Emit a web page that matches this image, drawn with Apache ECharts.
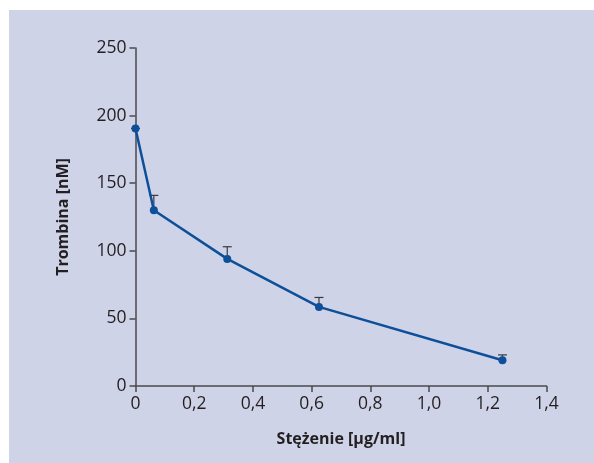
<!DOCTYPE html>
<html><head><meta charset="utf-8">
<script src="https://cdn.jsdelivr.net/npm/echarts@6/dist/echarts.min.js"></script>
<style>html,body{margin:0;padding:0;background:#fff}#c{width:594px;height:463px}</style>
</head><body><div id="c"></div>
<script>
const concentrations = [0, 0.0625, 0.3125, 0.625, 1.25];
const thrombin = [190.5, 130, 94, 58.5, 19];
const errorTop = [190.5, 141, 103, 65.5, 23];
const xTicks = ['0','0,2','0,4','0,6','0,8','1,0','1,2','1,4'];
const xName = 'Stężenie [µg/ml]';
const yName = 'Trombina [nM]';

const chart = echarts.init(document.getElementById('c'));
const txt = '#231f20';
const font = '"Open Sans", "Noto Sans", sans-serif';
chart.setOption({
  animation: false,
  graphic: [{type:'rect', z:-10, silent:true, shape:{x:9,y:10,width:585,height:453}, style:{fill:'#cfd3e8'}}],
  grid: {left:135.5, right:47.5, top:48, bottom:77},
  xAxis: {
    type:'value', min:0, max:1.4, interval:0.2,
    name: xName, nameLocation:'middle', nameGap:45,
    nameTextStyle:{fontFamily:font, fontWeight:'bold', fontSize:16, color:txt},
    axisLine:{show:true, lineStyle:{color:'#4a4a4c', width:1.5}},
    axisTick:{show:true, length:6, lineStyle:{color:'#4a4a4c', width:1.5}},
    axisLabel:{fontFamily:font, fontSize:17.5, color:txt, margin:9,
      formatter:(v)=>xTicks[Math.round(v/0.2)]},
    splitLine:{show:false}
  },
  yAxis: {
    type:'value', min:0, max:250, interval:50,
    name: yName, nameLocation:'middle', nameGap:64,
    nameTextStyle:{fontFamily:font, fontWeight:'bold', fontSize:16, color:txt},
    axisLine:{show:true, lineStyle:{color:'#4a4a4c', width:1.5}},
    axisTick:{show:true, length:6, lineStyle:{color:'#4a4a4c', width:1.5}},
    axisLabel:{fontFamily:font, fontSize:17.5, color:txt, margin:9},
    splitLine:{show:false}
  },
  series: [
    {
      type:'custom', z:1,
      data: concentrations.map((c,i)=>[c, thrombin[i], errorTop[i]]),
      renderItem: (params, api) => {
        const p0 = api.coord([api.value(0), api.value(1)]);
        const p1 = api.coord([api.value(0), api.value(2)]);
        const hw = 4.5;
        return {type:'group', children:[
          {type:'line', shape:{x1:p0[0],y1:p0[1],x2:p1[0],y2:p1[1]}, style:{stroke:'#3a3a3c', lineWidth:1.2}},
          {type:'line', shape:{x1:p1[0]-hw,y1:p1[1],x2:p1[0]+hw,y2:p1[1]}, style:{stroke:'#3a3a3c', lineWidth:1.2}}
        ]};
      }
    },
    {
      type:'line', z:3,
      data: concentrations.map((c,i)=>[c, thrombin[i]]),
      symbol:'circle', symbolSize:8,
      lineStyle:{color:'#0d4f98', width:2.5},
      itemStyle:{color:'#0d4f98'}
    }
  ]
});
</script></body></html>
